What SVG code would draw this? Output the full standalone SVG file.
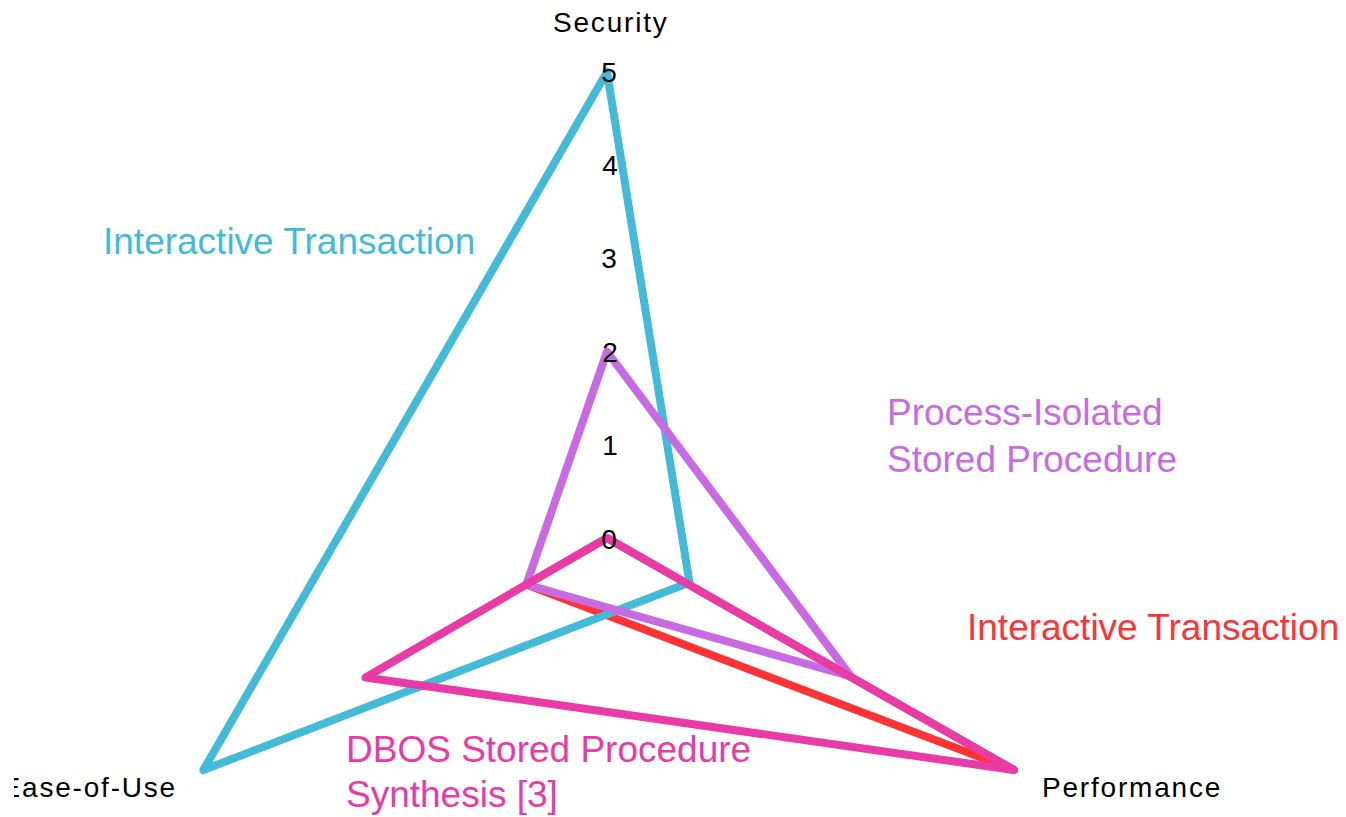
<svg xmlns="http://www.w3.org/2000/svg" width="1346" height="817" viewBox="0 0 1346 817">
<style>
.axis{font-family:"Liberation Sans",Arial,sans-serif;font-size:28px;letter-spacing:1.8px;fill:#000}
.tick{font-family:"Liberation Sans",Arial,sans-serif;font-size:28px;fill:#000;text-anchor:middle}
.lbl{font-family:"Liberation Sans",Arial,sans-serif;font-size:37px}
.series{fill:none;stroke-width:8;stroke-linejoin:round;stroke-linecap:round}
</style>
<defs>
<clipPath id="clipL"><rect x="14" y="0" width="1332" height="817"/></clipPath>
</defs>
<rect width="1346" height="817" fill="#fff"/>
<g id="connectors">
<polygon id="red" class="series" stroke="#FF3333" points="607,538 1014,770 526.3,584.6"/>
<polygon id="cyan" class="series" stroke="#43BAD7" points="607,72 689.5,582.5 203.4,770"/>
<polygon id="purple" class="series" stroke="#C86BE2" points="607,351.6 851,676.5 526.3,584.6"/>
<polygon id="pink" class="series" stroke="#E83BA6" points="607,538 1014,770 365.5,677.5"/>
</g>
<g id="ticks">
<text class="tick" x="609" y="82">5</text>
<text class="tick" x="610" y="175">4</text>
<text class="tick" x="609" y="268">3</text>
<text class="tick" x="610" y="362">2</text>
<text class="tick" x="610" y="455">1</text>
<text class="tick" x="609" y="549">0</text>
</g>
<g id="axis-security"><text class="axis" x="553" y="32">Security</text></g>
<g id="axis-performance"><text class="axis" x="1042" y="797">Performance</text></g>
<g id="axis-ease" clip-path="url(#clipL)"><text class="axis" x="177" y="797" text-anchor="end">Ease-of-Use</text></g>
<g id="label-cyan"><text class="lbl" fill="#43BAD7" x="103" y="254">Interactive Transaction</text></g>
<g id="label-purple"><text class="lbl" fill="#C86BE2" x="887" y="425">Process-Isolated</text><text class="lbl" fill="#C86BE2" x="887" y="472">Stored Procedure</text></g>
<g id="label-red"><text class="lbl" fill="#FF3333" x="967" y="640">Interactive Transaction</text></g>
<g id="label-pink"><text class="lbl" fill="#E83BA6" x="346" y="762">DBOS Stored Procedure</text><text class="lbl" fill="#E83BA6" x="346" y="807">Synthesis [3]</text></g>
</svg>
